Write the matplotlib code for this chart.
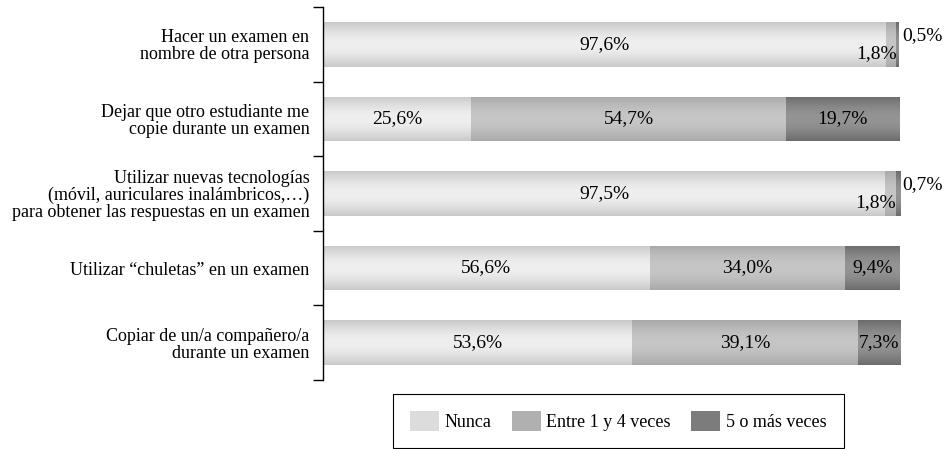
import numpy as np
import matplotlib.pyplot as plt
from matplotlib.patches import Patch

plt.rcParams['font.family'] = ['Liberation Serif', 'DejaVu Serif']
plt.rcParams['font.size'] = 13

categories = [
    'Hacer un examen en\nnombre de otra persona',
    'Dejar que otro estudiante me\ncopie durante un examen',
    'Utilizar nuevas tecnologías\n(móvil, auriculares inalámbricos,…)\npara obtener las respuestas en un examen',
    'Utilizar “chuletas” en un examen',
    'Copiar de un/a compañero/a\ndurante un examen',
]
series = ['Nunca', 'Entre 1 y 4 veces', '5 o más veces']
nunca = [97.6, 25.6, 97.5, 56.6, 53.6]
entre = [1.8, 54.7, 1.8, 34.0, 39.1]
cinco = [0.5, 19.7, 0.7, 9.4, 7.3]

# (edge colour, centre colour) for the vertical gradient
shades = [('#c9c9c9', '#efefef'), ('#a9a9a9', '#c6c6c6'), ('#6c6c6c', '#949494')]

fig, ax = plt.subplots(figsize=(9.51, 4.49), dpi=100)
fig.subplots_adjust(left=0.34, right=0.946, top=0.984, bottom=0.154)

y = np.arange(len(categories))
left = np.zeros(len(categories))
t = np.linspace(0, 1, 64)
prof = np.sin(np.pi * t)[:, None]

for vals, (c_edge, c_mid) in zip([nunca, entre, cinco], shades):
    bars = ax.barh(y, vals, left=left, height=0.6, color=c_mid, linewidth=0)
    e = np.array(plt.matplotlib.colors.to_rgb(c_edge))
    m = np.array(plt.matplotlib.colors.to_rgb(c_mid))
    grad = (e + (m - e) * prof)[:, None, :].repeat(2, axis=1)
    for b in bars:
        x0, y0 = b.get_x(), b.get_y()
        im = ax.imshow(grad, extent=(x0, x0 + b.get_width(), y0, y0 + b.get_height()),
                       aspect='auto', origin='lower', zorder=2)
        im.set_clip_path(b)
    left += np.array(vals)

# value labels
for i in range(len(categories)):
    segs = [nunca[i], entre[i], cinco[i]]
    start = 0
    for j, v in enumerate(segs):
        txt = f'{v:.1f}%'.replace('.', ',')
        if v >= 5:
            ax.text(start + v / 2, i, txt, ha='center', va='center', fontsize=14, zorder=3)
        elif j == 1:
            ax.text(start + v + 0.1, i + 0.12, txt, ha='right', va='center', fontsize=14, zorder=3)
        else:
            ax.text(start + v + 0.5, i - 0.12, txt, ha='left', va='center', fontsize=14, zorder=3,
                    clip_on=False)
        start += v

ax.set_xlim(0, 100)
ax.set_ylim(len(categories) - 0.5, -0.5)
ax.set_yticks(y)
ax.set_yticklabels(categories, linespacing=1.0)
ax.set_yticks(np.arange(-0.5, len(categories)), minor=True)
ax.tick_params(axis='y', which='major', length=0, pad=10)
ax.tick_params(axis='y', which='minor', length=7, width=1)
ax.set_xticks([])
for s in ['top', 'right', 'bottom']:
    ax.spines[s].set_visible(False)
ax.spines['left'].set_linewidth(1)

handles = [Patch(facecolor=c, edgecolor='none') for c in ['#dcdcdc', '#b0b0b0', '#7c7c7c']]
leg = fig.legend(handles, series, loc='lower center', bbox_to_anchor=(0.650, 0.002), ncol=3,
                 fancybox=False, edgecolor='black', framealpha=1, handlelength=1.6,
                 handleheight=1.3, handletextpad=0.3, columnspacing=1.15, borderpad=0.95,
                 borderaxespad=0.0)
leg.get_frame().set_linewidth(0.8)

fig.savefig('out.png', dpi=100)
